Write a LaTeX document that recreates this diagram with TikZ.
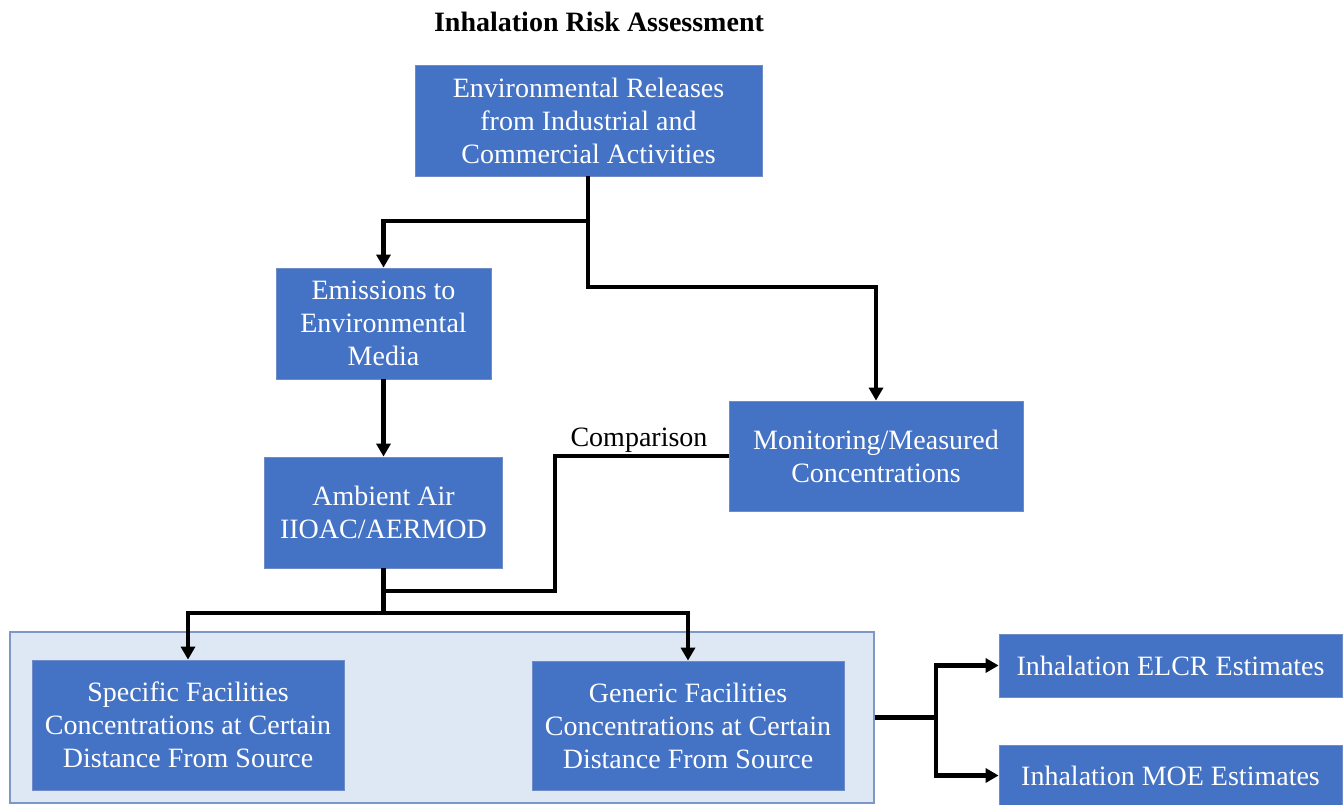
\documentclass[tikz,border=0pt]{standalone}
\usepackage{fontspec}
\setmainfont{Liberation Serif}
\usetikzlibrary{arrows.meta}
\definecolor{boxblue}{HTML}{4472C4}
\definecolor{boxedge}{HTML}{6F8CC6}
\definecolor{groupfill}{HTML}{DEE7F4}
\definecolor{groupedge}{HTML}{7D98C7}
\begin{document}
\begin{tikzpicture}[x=1bp,y=-1bp,
  txt/.style={font=\fontsize{28bp}{33bp}\selectfont},
  bluebox/.style={txt, rectangle, fill=boxblue, draw=boxedge, line width=0.8bp,
    text=white, align=center, inner sep=0pt},
  groupbox/.style={rectangle, fill=groupfill, draw=groupedge, line width=1.5bp, inner sep=0pt},
  conn/.style={line width=4.2bp, draw=black},
  arr/.style={conn, -{Triangle[width=14bp,length=13bp]}}]
\useasboundingbox (0,0) rectangle (1344,804);

% title
\node[txt, font=\fontsize{28bp}{33bp}\selectfont\bfseries] (title) at (599,22) {Inhalation Risk Assessment};

% grouping panel behind the two facility boxes
\node[groupbox, minimum width=864bp, minimum height=171bp] (grp) at (442,717.5) {};

% process boxes
\node[bluebox, minimum width=347bp, minimum height=111bp] (rel) at (588.5,120.5)
  {Environmental Releases\\from Industrial and\\Commercial Activities};
\node[bluebox, minimum width=215bp, minimum height=111bp] (emis) at (383.5,323.5)
  {Emissions to\\Environmental\\Media};
\node[bluebox, minimum width=238bp, minimum height=111bp] (amb) at (383.5,512.5)
  {Ambient Air\\IIOAC/AERMOD};
\node[bluebox, minimum width=294bp, minimum height=110bp] (mon) at (876,456)
  {Monitoring/Measured\\Concentrations};
\node[bluebox, minimum width=312bp, minimum height=130bp] (spec) at (188,725)
  {Specific Facilities\\Concentrations at Certain\\Distance From Source};
\node[bluebox, minimum width=312bp, minimum height=129bp] (gen) at (688,725.5)
  {Generic Facilities\\Concentrations at Certain\\Distance From Source};
\node[bluebox, minimum width=343bp, minimum height=63bp] (elcr) at (1170.5,665.5)
  {Inhalation ELCR Estimates};
\node[bluebox, minimum width=343bp, minimum height=61bp] (moe) at (1170.5,775.5)
  {Inhalation MOE Estimates};

% junction points
\coordinate (j1) at (588,221);
\coordinate (j2) at (588,287);
\coordinate (j3) at (383.5,613);
\coordinate (j4) at (555,591);
\coordinate (j5) at (383.5,591);
\coordinate (j6) at (936,717.5);

% connectors
\draw[arr] (rel.south -| j1) -- (j1) -| (emis.north);
\draw[arr] (j1) -- (j2) -| (mon.north);
\draw[arr] (emis.south) -- (amb.north);
\draw[conn] (amb.south) -- (j3);
\draw[arr] (j3) -| (spec.north);
\draw[arr] (j3) -| (gen.north);
\draw[conn] (mon.west) -| (j4) -- (j5);
\node[txt, anchor=south] (cmp) at (639,456) {Comparison};
\draw[conn] (grp.east) -- (j6);
\draw[arr] (j6) |- (elcr.west);
\draw[arr] (j6) |- (moe.west);
\end{tikzpicture}
\end{document}
